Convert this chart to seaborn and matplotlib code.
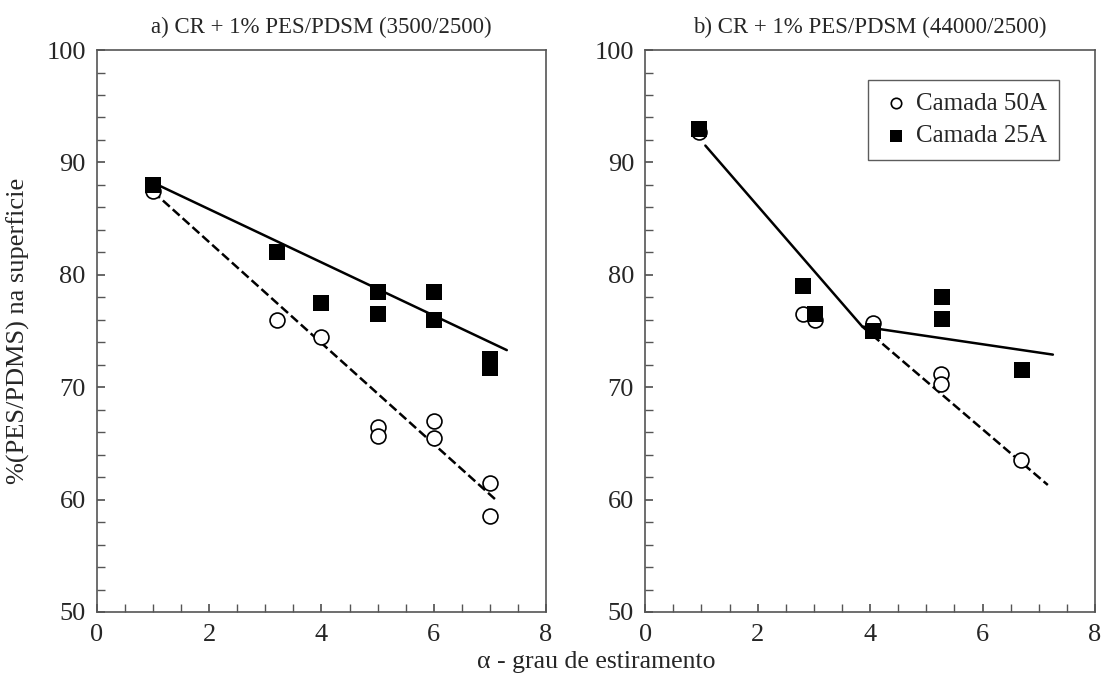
import numpy as np
import pandas as pd
import matplotlib
matplotlib.use("Agg")
import matplotlib.pyplot as plt
from matplotlib.ticker import MultipleLocator
import seaborn as sns

# panel a) CR + 1% PES/PDSM (3500/2500)
a_x50 = [1, 3.2, 4, 5, 5, 6, 6, 7, 7]
a_y50 = [87.5, 76.0, 74.5, 66.5, 65.7, 67.0, 65.5, 61.5, 58.5]
a_x25 = [1, 3.2, 4, 5, 5, 6, 6, 7, 7]
a_y25 = [88.0, 82.0, 77.5, 78.5, 76.5, 78.5, 76.0, 72.5, 71.7]
a_fit25_x = [1.0, 7.3]
a_fit25_y = [88.2, 73.3]
a_fit50_x = [1.0, 7.1]
a_fit50_y = [87.4, 60.0]

# panel b) CR + 1% PES/PDSM (44000/2500)
b_x50 = [0.95, 2.8, 3.02, 4.05, 5.26, 5.26, 6.69]
b_y50 = [92.7, 76.5, 76.0, 75.7, 71.2, 70.3, 63.5]
b_x25 = [0.95, 2.81, 3.02, 4.05, 5.28, 5.28, 6.7]
b_y25 = [93.0, 79.0, 76.5, 75.0, 78.0, 76.1, 71.5]
b_fit_x = [1.07, 3.86, 7.25]
b_fit_y = [91.5, 75.4, 72.9]
b_dash_x = [3.86, 7.16]
b_dash_y = [75.4, 61.3]

titles = ["a) CR + 1% PES/PDSM (3500/2500)", "b) CR + 1% PES/PDSM (44000/2500)"]

sns.set_theme(style="ticks")
plt.rcParams["font.family"] = ["Liberation Serif", "DejaVu Serif"]

fig = plt.figure(figsize=(11.01, 6.79), dpi=100)
ax1 = fig.add_axes([0.088, 0.0987, 0.408, 0.8276])
ax2 = fig.add_axes([0.586, 0.0987, 0.4086, 0.8276])

panels = [
    (ax1, a_x50, a_y50, a_x25, a_y25, [(a_fit25_x, a_fit25_y, "-"), (a_fit50_x, a_fit50_y, "--")]),
    (ax2, b_x50, b_y50, b_x25, b_y25, [(b_fit_x, b_fit_y, "-"), (b_dash_x, b_dash_y, "--")]),
]

for i, (ax, x50, y50, x25, y25, fits) in enumerate(panels):
    for fx, fy, ls in fits:
        sns.lineplot(x=fx, y=fy, ax=ax, color="black", lw=1.8, linestyle=ls,
                     dashes=False if ls == "-" else (5, 3.5), sort=False, estimator=None)
    sns.scatterplot(x=x50, y=y50, ax=ax, marker="o", s=115, facecolor="white",
                    edgecolor="black", linewidth=1.2, label="Camada 50A", zorder=3)
    sns.scatterplot(x=x25, y=y25, ax=ax, marker="s", s=135, color="black",
                    edgecolor="black", linewidth=0, label="Camada 25A", zorder=3)
    ax.set_xlim(0, 8)
    ax.set_ylim(50, 100)
    ax.xaxis.set_major_locator(MultipleLocator(2))
    ax.xaxis.set_minor_locator(MultipleLocator(0.5))
    ax.yaxis.set_major_locator(MultipleLocator(10))
    ax.yaxis.set_minor_locator(MultipleLocator(2))
    ax.tick_params(which="both", direction="in", top=False, right=False,
                   labelsize=19, color="#555555", pad=8)
    ax.tick_params(axis="x", which="major", pad=9)
    ax.tick_params(which="major", length=6)
    ax.tick_params(which="minor", length=6)
    for sp in ax.spines.values():
        sp.set_color("#555555")
        sp.set_linewidth(1.2)
    ax.set_title(titles[i], fontsize=16.5, pad=12)
    ax.set_xlabel("")
    ax.set_ylabel("")
    if i == 0:
        ax.get_legend().remove()
    else:
        leg = ax.legend(loc="upper right", bbox_to_anchor=(0.92, 0.947), fontsize=18,
                        frameon=True, fancybox=False, edgecolor="#333333",
                        handletextpad=0.2, borderpad=0.5, markerscale=0.7,
                        handlelength=1.2, borderaxespad=0, labelspacing=0.4)
        leg.get_frame().set_linewidth(1.0)

ax1.set_ylabel("%(PES/PDMS) na superficie", fontsize=19, labelpad=12)
fig.text(0.542, 0.025, "α - grau de estiramento", ha="center", va="center", fontsize=18.5)

fig.savefig("out.png", dpi=100)
